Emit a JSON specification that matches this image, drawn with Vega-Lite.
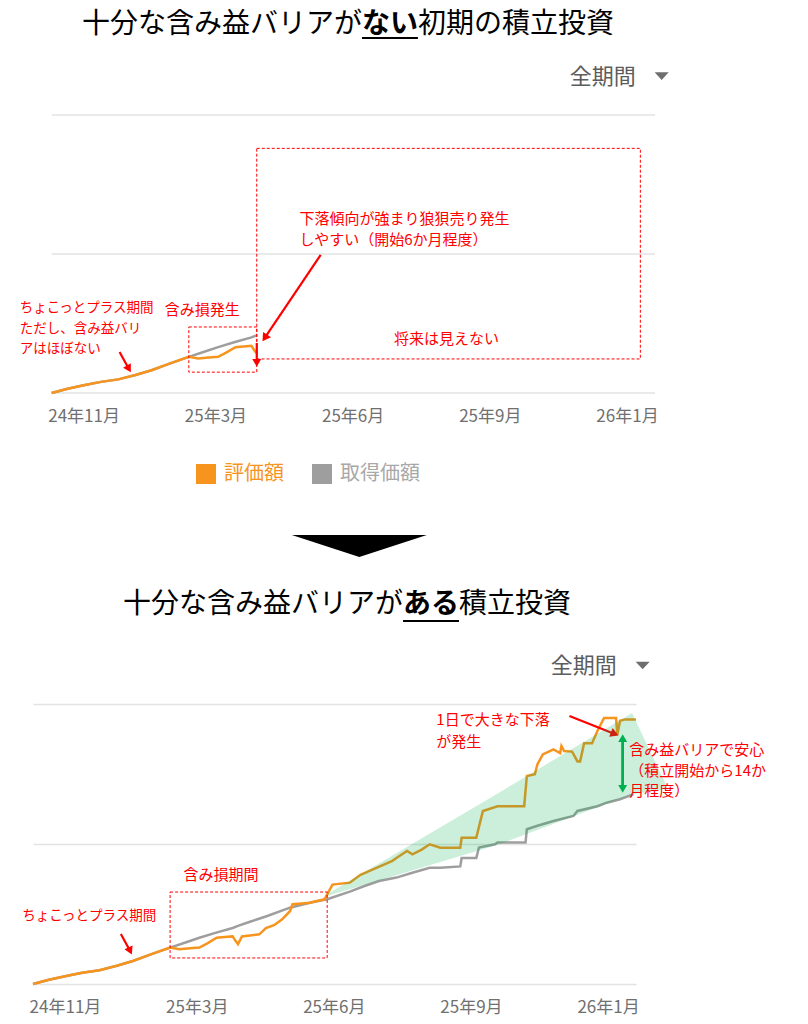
{
  "$schema": "https://vega.github.io/schema/vega-lite/v6.json",
  "padding": {"left": 0, "top": 11, "right": 0, "bottom": 14},
  "background": "white",
  "config": {
    "font": "Noto Sans CJK JP",
    "view": {"stroke": null}
  },
  "datasets": {
    "series": [
      {"series": "取得価額", "date": "2024-10-30", "v": 0},
      {"series": "取得価額", "date": "2024-11-11", "v": 3},
      {"series": "取得価額", "date": "2024-11-24", "v": 5.7},
      {"series": "取得価額", "date": "2024-12-06", "v": 8},
      {"series": "取得価額", "date": "2024-12-19", "v": 9.8},
      {"series": "取得価額", "date": "2025-01-01", "v": 13},
      {"series": "取得価額", "date": "2025-01-13", "v": 16.4},
      {"series": "取得価額", "date": "2025-01-26", "v": 21},
      {"series": "取得価額", "date": "2025-02-10", "v": 26},
      {"series": "取得価額", "date": "2025-02-21", "v": 29.5},
      {"series": "取得価額", "date": "2025-03-04", "v": 33},
      {"series": "取得価額", "date": "2025-03-16", "v": 36.5},
      {"series": "取得価額", "date": "2025-03-29", "v": 40},
      {"series": "取得価額", "date": "2025-04-02", "v": 41.5},
      {"series": "取得価額", "date": "2025-04-11", "v": 44.5},
      {"series": "取得価額", "date": "2025-04-24", "v": 48.6},
      {"series": "取得価額", "date": "2025-05-11", "v": 54.5},
      {"series": "取得価額", "date": "2025-05-26", "v": 58},
      {"series": "取得価額", "date": "2025-06-08", "v": 60.5},
      {"series": "取得価額", "date": "2025-06-25", "v": 66},
      {"series": "取得価額", "date": "2025-07-06", "v": 70},
      {"series": "取得価額", "date": "2025-07-17", "v": 73.6},
      {"series": "取得価額", "date": "2025-07-30", "v": 76},
      {"series": "取得価額", "date": "2025-08-11", "v": 79.5},
      {"series": "取得価額", "date": "2025-08-24", "v": 83},
      {"series": "取得価額", "date": "2025-09-01", "v": 83},
      {"series": "取得価額", "date": "2025-09-16", "v": 84},
      {"series": "取得価額", "date": "2025-09-17", "v": 90},
      {"series": "取得価額", "date": "2025-09-28", "v": 90},
      {"series": "取得価額", "date": "2025-09-30", "v": 97.4},
      {"series": "取得価額", "date": "2025-10-12", "v": 99.8},
      {"series": "取得価額", "date": "2025-10-14", "v": 101},
      {"series": "取得価額", "date": "2025-11-04", "v": 101},
      {"series": "取得価額", "date": "2025-11-05", "v": 110.5},
      {"series": "取得価額", "date": "2025-11-13", "v": 113},
      {"series": "取得価額", "date": "2025-11-25", "v": 116.4},
      {"series": "取得価額", "date": "2025-12-10", "v": 120},
      {"series": "取得価額", "date": "2025-12-13", "v": 123.6},
      {"series": "取得価額", "date": "2025-12-28", "v": 127},
      {"series": "取得価額", "date": "2026-01-04", "v": 129.5},
      {"series": "取得価額", "date": "2026-01-14", "v": 132},
      {"series": "取得価額", "date": "2026-01-24", "v": 135.5},
      {"series": "評価額", "date": "2024-10-30", "v": 0},
      {"series": "評価額", "date": "2024-11-11", "v": 3},
      {"series": "評価額", "date": "2024-11-24", "v": 5.7},
      {"series": "評価額", "date": "2024-12-06", "v": 8},
      {"series": "評価額", "date": "2024-12-19", "v": 9.8},
      {"series": "評価額", "date": "2025-01-01", "v": 13},
      {"series": "評価額", "date": "2025-01-13", "v": 16.4},
      {"series": "評価額", "date": "2025-01-26", "v": 21},
      {"series": "評価額", "date": "2025-02-10", "v": 26},
      {"series": "評価額", "date": "2025-02-17", "v": 24.8},
      {"series": "評価額", "date": "2025-02-25", "v": 25.5},
      {"series": "評価額", "date": "2025-03-04", "v": 26},
      {"series": "評価額", "date": "2025-03-10", "v": 29},
      {"series": "評価額", "date": "2025-03-17", "v": 33},
      {"series": "評価額", "date": "2025-03-23", "v": 33.5},
      {"series": "評価額", "date": "2025-03-29", "v": 34},
      {"series": "評価額", "date": "2025-03-31", "v": 31},
      {"series": "評価額", "date": "2025-04-02", "v": 28.5},
      {"series": "評価額", "date": "2025-04-05", "v": 34},
      {"series": "評価額", "date": "2025-04-18", "v": 35.5},
      {"series": "評価額", "date": "2025-04-23", "v": 40},
      {"series": "評価額", "date": "2025-04-29", "v": 42},
      {"series": "評価額", "date": "2025-05-05", "v": 46},
      {"series": "評価額", "date": "2025-05-11", "v": 52},
      {"series": "評価額", "date": "2025-05-13", "v": 57},
      {"series": "評価額", "date": "2025-05-20", "v": 57.5},
      {"series": "評価額", "date": "2025-05-26", "v": 58},
      {"series": "評価額", "date": "2025-06-01", "v": 59.5},
      {"series": "評価額", "date": "2025-06-06", "v": 60.5},
      {"series": "評価額", "date": "2025-06-08", "v": 64},
      {"series": "評価額", "date": "2025-06-12", "v": 71},
      {"series": "評価額", "date": "2025-06-25", "v": 72.4},
      {"series": "評価額", "date": "2025-07-03", "v": 78},
      {"series": "評価額", "date": "2025-07-15", "v": 83},
      {"series": "評価額", "date": "2025-07-27", "v": 88},
      {"series": "評価額", "date": "2025-07-30", "v": 90},
      {"series": "評価額", "date": "2025-08-07", "v": 95},
      {"series": "評価額", "date": "2025-08-11", "v": 92.6},
      {"series": "評価額", "date": "2025-08-18", "v": 96},
      {"series": "評価額", "date": "2025-08-24", "v": 99.8},
      {"series": "評価額", "date": "2025-09-01", "v": 97.4},
      {"series": "評価額", "date": "2025-09-16", "v": 97.4},
      {"series": "評価額", "date": "2025-09-17", "v": 104.5},
      {"series": "評価額", "date": "2025-09-28", "v": 104.5},
      {"series": "評価額", "date": "2025-10-01", "v": 116},
      {"series": "評価額", "date": "2025-10-03", "v": 123.6},
      {"series": "評価額", "date": "2025-10-14", "v": 127},
      {"series": "評価額", "date": "2025-11-03", "v": 127},
      {"series": "評価額", "date": "2025-11-05", "v": 148.6},
      {"series": "評価額", "date": "2025-11-11", "v": 149.8},
      {"series": "評価額", "date": "2025-11-13", "v": 157},
      {"series": "評価額", "date": "2025-11-17", "v": 164},
      {"series": "評価額", "date": "2025-11-25", "v": 167.6},
      {"series": "評価額", "date": "2025-11-30", "v": 165},
      {"series": "評価額", "date": "2025-12-01", "v": 170},
      {"series": "評価額", "date": "2025-12-03", "v": 166.4},
      {"series": "評価額", "date": "2025-12-09", "v": 166},
      {"series": "評価額", "date": "2025-12-13", "v": 159},
      {"series": "評価額", "date": "2025-12-15", "v": 159},
      {"series": "評価額", "date": "2025-12-17", "v": 167.6},
      {"series": "評価額", "date": "2025-12-18", "v": 172},
      {"series": "評価額", "date": "2025-12-24", "v": 172},
      {"series": "評価額", "date": "2025-12-28", "v": 180.7},
      {"series": "評価額", "date": "2026-01-02", "v": 190},
      {"series": "評価額", "date": "2026-01-11", "v": 190},
      {"series": "評価額", "date": "2026-01-12", "v": 178},
      {"series": "評価額", "date": "2026-01-14", "v": 188},
      {"series": "評価額", "date": "2026-01-18", "v": 189},
      {"series": "評価額", "date": "2026-01-26", "v": 189}
    ],
    "grid": [
      {"date": "2024-10-30", "date2": "2026-01-26", "v": 0},
      {"date": "2024-10-30", "date2": "2026-01-26", "v": 100},
      {"date": "2024-10-30", "date2": "2026-01-26", "v": 200}
    ],
    "titles": [
      {"panel": "top", "part": "pre", "date": "2025-06-20", "v": 264.7, "text": "十分な含み益バリアが"},
      {"panel": "top", "part": "key", "date": "2025-06-20", "v": 264.7, "text": "ない"},
      {"panel": "top", "part": "post", "date": "2025-08-01", "v": 264.7, "text": "初期の積立投資"},
      {"panel": "bottom", "part": "pre", "date": "2025-08-04", "v": 270.7, "text": "十分な含み益バリアが"},
      {"panel": "bottom", "part": "key", "date": "2025-08-04", "v": 270.7, "text": "ある"},
      {"panel": "bottom", "part": "post", "date": "2025-09-15", "v": 270.7, "text": "積立投資"}
    ],
    "underline": [
      {"panel": "top", "date": "2025-06-20", "date2": "2025-08-01", "v": 255.4},
      {"panel": "bottom", "date": "2025-08-04", "date2": "2025-09-15", "v": 259.3}
    ],
    "band": [
      {"date": "2025-06-08", "v": 64.3, "v2": 62.9},
      {"date": "2025-10-16", "v": 137.2, "v2": 100},
      {"date": "2026-01-23", "v": 193.6, "v2": 135.5},
      {"date": "2026-02-19", "v": 139.5, "v2": 139.5}
    ],
    "boxes": [
      {"panel": "top", "date": "2025-02-10", "v": 15, "date2": "2025-04-02", "v2": 47.5},
      {"panel": "top", "date": "2025-04-02", "v": 24.5, "date2": "2026-01-15", "v2": 176},
      {"panel": "bottom", "date": "2025-02-10", "v": 18.6, "date2": "2025-06-08", "v2": 65.7}
    ],
    "arrows": [
      {"panel": "top", "id": "a1", "date": "2024-12-27", "v": 17.3, "date2": "2024-12-20", "v2": 29.5},
      {"panel": "top", "id": "a2", "date": "2025-04-08", "v": 39.6, "date2": "2025-05-20", "v2": 99.3},
      {"panel": "top", "id": "a3", "date": "2025-04-02", "v": 21.6, "date2": "2025-04-02", "v2": 36},
      {"panel": "bottom", "id": "b1", "date": "2025-01-11", "v": 23.6, "date2": "2025-01-04", "v2": 35.7},
      {"panel": "bottom", "id": "b2", "date": "2026-01-10", "v": 178.6, "date2": "2025-12-07", "v2": 191.4}
    ],
    "barrier": [
      {"end": "down", "date": "2026-01-16", "v": 139.3, "date2": "2026-01-16", "v2": 175.7},
      {"end": "up", "date": "2026-01-16", "v": 175.7, "date2": "2026-01-16", "v2": 139.3}
    ],
    "notes": [
      {"panel": "top", "kind": "side", "date": "2024-10-06", "v": 61.2, "text": "ちょこっとプラス期間"},
      {"panel": "top", "kind": "side", "date": "2024-10-06", "v": 46, "text": "ただし、含み益バリ"},
      {"panel": "top", "kind": "side", "date": "2024-10-06", "v": 31.7, "text": "アはほぼない"},
      {"panel": "top", "kind": "main", "date": "2025-01-23", "v": 59.7, "text": "含み損発生"},
      {"panel": "top", "kind": "main", "date": "2025-05-04", "v": 125.2, "text": "下落傾向が強まり狼狽売り発生"},
      {"panel": "top", "kind": "main", "date": "2025-05-04", "v": 110, "text": "しやすい（開始6か月程度）"},
      {"panel": "top", "kind": "main", "date": "2025-07-14", "v": 38.8, "text": "将来は見えない"},
      {"panel": "bottom", "kind": "side", "date": "2024-10-22", "v": 48.6, "text": "ちょこっとプラス期間"},
      {"panel": "bottom", "kind": "main", "date": "2025-02-20", "v": 77.9, "text": "含み損期間"},
      {"panel": "bottom", "kind": "main", "date": "2025-08-29", "v": 188.6, "text": "1日で大きな下落"},
      {"panel": "bottom", "kind": "main", "date": "2025-08-29", "v": 172.9, "text": "が発生"},
      {"panel": "bottom", "kind": "main", "date": "2026-01-21", "v": 167, "text": "含み益バリアで安心"},
      {"panel": "bottom", "kind": "main", "date": "2026-01-21", "v": 152, "text": "（積立開始から14か"},
      {"panel": "bottom", "kind": "main", "date": "2026-01-21", "v": 137.9, "text": "月程度）"}
    ],
    "menu": [
      {"panel": "top", "kind": "label", "date": "2025-11-23", "v": 227.3, "text": "全期間"},
      {"panel": "top", "kind": "caret", "date": "2026-01-31", "v": 228, "text": ""},
      {"panel": "bottom", "kind": "label", "date": "2025-11-23", "v": 227.2, "text": "全期間"},
      {"panel": "bottom", "kind": "caret", "date": "2026-01-31", "v": 227.5, "text": ""}
    ],
    "divider": [
      {"date": "2025-06-18", "v": -110}
    ]
  },
  "vconcat": [
    {
      "width": 622,
      "height": 278,
      "encoding": {
        "x": {
          "field": "date", "type": "temporal",
          "scale": {"domain": [{"year": 2024, "month": 10, "date": 16}, {"year": 2026, "month": 1, "date": 26}]},
          "axis": {
            "title": null, "format": "%y年%-m月",
            "values": [{"year": 2024, "month": 11, "date": 23}, {"year": 2025, "month": 3, "date": 2}, {"year": 2025, "month": 6, "date": 13}, {"year": 2025, "month": 9, "date": 24}, {"year": 2026, "month": 1, "date": 5}],
            "grid": false, "domain": false, "ticks": false, "tickSize": 0, "labelPadding": 15,
            "labelFontSize": 17, "labelColor": "#707070", "labelFlush": false, "labelOverlap": false
          }
        },
        "y": {
          "field": "v", "type": "quantitative",
          "scale": {"domain": [0, 200], "nice": false, "zero": false},
          "axis": null
        }
      },
      "layer": [
        {
          "data": {"name": "grid"},
          "mark": {"type": "rule", "color": "#e3e3e3", "strokeWidth": 1.5},
          "encoding": {"x2": {"field": "date2"}}
        },
        {
          "data": {"name": "series"},
          "transform": [{"filter": "datum.series === '取得価額' && time(datum.date) < time(datetime(2025, 3, 3))"}],
          "mark": {"type": "line", "strokeWidth": 2.5},
          "encoding": {
            "color": {
              "field": "series", "type": "nominal",
              "scale": {"domain": ["評価額", "取得価額"], "range": ["#f7941d", "#9e9e9e"]},
              "legend": {
                "title": null, "orient": "none", "legendX": 163, "legendY": 349, "direction": "horizontal",
                "symbolType": "square", "symbolSize": 400, "symbolStrokeWidth": 0,
                "labelFontSize": 20, "labelOffset": 8, "columnPadding": 28,
                "encode": {
                  "symbols": {"update": {
                    "fill": [{"test": "datum.value === '評価額'", "value": "#f7941d"}, {"value": "#9e9e9e"}],
                    "strokeWidth": {"value": 0}, "opacity": {"value": 1}
                  }},
                  "labels": {"update": {
                    "fill": [{"test": "datum.value === '評価額'", "value": "#f7941d"}, {"value": "#a8a8a8"}]
                  }}
                }
              }
            }
          }
        },
        {
          "data": {"name": "series"},
          "transform": [{"filter": "datum.series === '評価額' && time(datum.date) < time(datetime(2025, 3, 3))"}],
          "mark": {"type": "line", "strokeWidth": 2.5},
          "encoding": {"color": {"field": "series", "type": "nominal"}}
        },
        {
          "data": {"name": "boxes"},
          "transform": [{"filter": "datum.panel === 'top'"}],
          "mark": {"type": "rect", "filled": false, "stroke": "#ff0000", "strokeWidth": 1, "strokeDash": [3, 2]},
          "encoding": {"x2": {"field": "date2"}, "y2": {"field": "v2"}}
        },
        {
          "data": {"name": "arrows"},
          "transform": [{"filter": "datum.panel === 'top'"}],
          "mark": {"type": "rule", "color": "#ff0000", "strokeWidth": 2.2},
          "encoding": {"x2": {"field": "date2"}, "y2": {"field": "v2"}}
        },
        {
          "data": {"name": "arrows"},
          "transform": [{"filter": "datum.id === 'a1'"}],
          "mark": {"type": "point", "shape": "triangle-down", "filled": true, "size": 80, "angle": -30, "color": "#ff0000", "opacity": 1},
          "encoding": {}
        },
        {
          "data": {"name": "arrows"},
          "transform": [{"filter": "datum.id === 'a2'"}],
          "mark": {"type": "point", "shape": "triangle-down", "filled": true, "size": 90, "angle": 34, "color": "#ff0000", "opacity": 1},
          "encoding": {}
        },
        {
          "data": {"name": "arrows"},
          "transform": [{"filter": "datum.id === 'a3'"}],
          "mark": {"type": "point", "shape": "triangle-down", "filled": true, "size": 80, "angle": 0, "color": "#ff0000", "opacity": 1},
          "encoding": {}
        },
        {
          "data": {"name": "notes"},
          "transform": [{"filter": "datum.panel === 'top' && datum.kind === 'main'"}],
          "mark": {"type": "text", "align": "left", "baseline": "middle", "fontSize": 15, "color": "#ff0000"},
          "encoding": {"text": {"field": "text"}}
        },
        {
          "data": {"name": "notes"},
          "transform": [{"filter": "datum.panel === 'top' && datum.kind === 'side'"}],
          "mark": {"type": "text", "align": "left", "baseline": "middle", "fontSize": 13.5, "color": "#ff0000"},
          "encoding": {"text": {"field": "text"}}
        },
        {
          "data": {"name": "menu"},
          "transform": [{"filter": "datum.panel === 'top' && datum.kind === 'label'"}],
          "mark": {"type": "text", "align": "left", "baseline": "middle", "fontSize": 22, "color": "#5c5c5c"},
          "encoding": {"text": {"field": "text"}}
        },
        {
          "data": {"name": "menu"},
          "transform": [{"filter": "datum.panel === 'top' && datum.kind === 'caret'"}],
          "mark": {"type": "point", "shape": "M-1,-0.55L1,-0.55L0,0.55Z", "filled": true, "size": 196, "color": "#6e6e6e", "opacity": 1},
          "encoding": {}
        },
        {
          "data": {"name": "titles"},
          "transform": [{"filter": "datum.panel === 'top' && datum.part === 'pre'"}],
          "mark": {"type": "text", "align": "right", "baseline": "middle", "fontSize": 28, "color": "#000000"},
          "encoding": {"text": {"field": "text"}}
        },
        {
          "data": {"name": "titles"},
          "transform": [{"filter": "datum.panel === 'top' && datum.part === 'key'"}],
          "mark": {"type": "text", "align": "left", "baseline": "middle", "fontSize": 28, "fontWeight": "bold", "color": "#000000"},
          "encoding": {"text": {"field": "text"}}
        },
        {
          "data": {"name": "titles"},
          "transform": [{"filter": "datum.panel === 'top' && datum.part === 'post'"}],
          "mark": {"type": "text", "align": "left", "baseline": "middle", "fontSize": 28, "color": "#000000"},
          "encoding": {"text": {"field": "text"}}
        },
        {
          "data": {"name": "underline"},
          "transform": [{"filter": "datum.panel === 'top'"}],
          "mark": {"type": "rule", "color": "#000000", "strokeWidth": 2},
          "encoding": {"x2": {"field": "date2"}}
        },
        {
          "data": {"name": "divider"},
          "mark": {"type": "point", "shape": "M-1,-0.163L1,-0.163L0,0.163Z", "filled": true, "size": 18225, "color": "#000000", "opacity": 1},
          "encoding": {}
        }
      ]
    },
    {
      "width": 603,
      "height": 280,
      "encoding": {
        "x": {
          "field": "date", "type": "temporal",
          "scale": {"domain": [{"year": 2024, "month": 10, "date": 30}, {"year": 2026, "month": 1, "date": 26}]},
          "axis": {
            "title": null, "format": "%y年%-m月",
            "values": [{"year": 2024, "month": 11, "date": 23}, {"year": 2025, "month": 3, "date": 2}, {"year": 2025, "month": 6, "date": 13}, {"year": 2025, "month": 9, "date": 24}, {"year": 2026, "month": 1, "date": 5}],
            "grid": false, "domain": false, "ticks": false, "tickSize": 0, "labelPadding": 15,
            "labelFontSize": 17, "labelColor": "#707070", "labelFlush": false, "labelOverlap": false
          }
        },
        "y": {
          "field": "v", "type": "quantitative",
          "scale": {"domain": [0, 200], "nice": false, "zero": false},
          "axis": {
            "title": null, "values": [0, 100, 200], "labels": false, "domain": false,
            "ticks": true, "tickSize": 33, "tickOpacity": 0,
            "grid": true, "gridColor": "#e3e3e3", "gridWidth": 1.5
          }
        }
      },
      "layer": [
        {
          "data": {"name": "series"},
          "transform": [{"filter": "datum.series === '取得価額'"}],
          "mark": {"type": "line", "strokeWidth": 2.5},
          "encoding": {
            "color": {
              "field": "series", "type": "nominal",
              "scale": {"domain": ["評価額", "取得価額"], "range": ["#f7941d", "#9e9e9e"]},
              "legend": null
            }
          }
        },
        {
          "data": {"name": "series"},
          "transform": [{"filter": "datum.series === '評価額'"}],
          "mark": {"type": "line", "strokeWidth": 2.5},
          "encoding": {"color": {"field": "series", "type": "nominal", "legend": null}}
        },
        {
          "data": {"name": "arrows"},
          "transform": [{"filter": "datum.panel === 'bottom'"}],
          "mark": {"type": "rule", "color": "#ff0000", "strokeWidth": 2.2},
          "encoding": {"x2": {"field": "date2"}, "y2": {"field": "v2"}}
        },
        {
          "data": {"name": "arrows"},
          "transform": [{"filter": "datum.id === 'b1'"}],
          "mark": {"type": "point", "shape": "triangle-down", "filled": true, "size": 80, "angle": -25, "color": "#ff0000", "opacity": 1},
          "encoding": {}
        },
        {
          "data": {"name": "arrows"},
          "transform": [{"filter": "datum.id === 'b2'"}],
          "mark": {"type": "point", "shape": "triangle-down", "filled": true, "size": 90, "angle": -68, "color": "#ff0000", "opacity": 1},
          "encoding": {}
        },
        {
          "data": {"name": "band"},
          "mark": {"type": "area", "color": "#00b050", "opacity": 0.2},
          "encoding": {"y2": {"field": "v2"}}
        },
        {
          "data": {"name": "barrier"},
          "mark": {"type": "rule", "color": "#00b050", "strokeWidth": 2.5},
          "encoding": {"x2": {"field": "date2"}, "y2": {"field": "v2"}}
        },
        {
          "data": {"name": "barrier"},
          "transform": [{"filter": "datum.end === 'down'"}],
          "mark": {"type": "point", "shape": "triangle-down", "filled": true, "size": 80, "color": "#00b050", "opacity": 1},
          "encoding": {}
        },
        {
          "data": {"name": "barrier"},
          "transform": [{"filter": "datum.end === 'up'"}],
          "mark": {"type": "point", "shape": "triangle-up", "filled": true, "size": 80, "color": "#00b050", "opacity": 1},
          "encoding": {}
        },
        {
          "data": {"name": "notes"},
          "transform": [{"filter": "datum.panel === 'bottom' && datum.kind === 'main'"}],
          "mark": {"type": "text", "align": "left", "baseline": "middle", "fontSize": 15, "color": "#ff0000"},
          "encoding": {"text": {"field": "text"}}
        },
        {
          "data": {"name": "notes"},
          "transform": [{"filter": "datum.panel === 'bottom' && datum.kind === 'side'"}],
          "mark": {"type": "text", "align": "left", "baseline": "middle", "fontSize": 13.5, "color": "#ff0000"},
          "encoding": {"text": {"field": "text"}}
        },
        {
          "data": {"name": "boxes"},
          "transform": [{"filter": "datum.panel === 'bottom'"}],
          "mark": {"type": "rect", "filled": false, "stroke": "#ff0000", "strokeWidth": 1, "strokeDash": [3, 2]},
          "encoding": {"x2": {"field": "date2"}, "y2": {"field": "v2"}}
        },
        {
          "data": {"name": "menu"},
          "transform": [{"filter": "datum.panel === 'bottom' && datum.kind === 'label'"}],
          "mark": {"type": "text", "align": "left", "baseline": "middle", "fontSize": 22, "color": "#5c5c5c"},
          "encoding": {"text": {"field": "text"}}
        },
        {
          "data": {"name": "menu"},
          "transform": [{"filter": "datum.panel === 'bottom' && datum.kind === 'caret'"}],
          "mark": {"type": "point", "shape": "M-1,-0.55L1,-0.55L0,0.55Z", "filled": true, "size": 196, "color": "#6e6e6e", "opacity": 1},
          "encoding": {}
        },
        {
          "data": {"name": "titles"},
          "transform": [{"filter": "datum.panel === 'bottom' && datum.part === 'pre'"}],
          "mark": {"type": "text", "align": "right", "baseline": "middle", "fontSize": 28, "color": "#000000"},
          "encoding": {"text": {"field": "text"}}
        },
        {
          "data": {"name": "titles"},
          "transform": [{"filter": "datum.panel === 'bottom' && datum.part === 'key'"}],
          "mark": {"type": "text", "align": "left", "baseline": "middle", "fontSize": 28, "fontWeight": "bold", "color": "#000000"},
          "encoding": {"text": {"field": "text"}}
        },
        {
          "data": {"name": "titles"},
          "transform": [{"filter": "datum.panel === 'bottom' && datum.part === 'post'"}],
          "mark": {"type": "text", "align": "left", "baseline": "middle", "fontSize": 28, "color": "#000000"},
          "encoding": {"text": {"field": "text"}}
        },
        {
          "data": {"name": "underline"},
          "transform": [{"filter": "datum.panel === 'bottom'"}],
          "mark": {"type": "rule", "color": "#000000", "strokeWidth": 2},
          "encoding": {"x2": {"field": "date2"}}
        }
      ]
    }
  ],
  "spacing": 34,
  "resolve": {
    "scale": {"x": "independent", "y": "independent", "color": "independent"},
    "legend": {"color": "independent"}
  }
}
